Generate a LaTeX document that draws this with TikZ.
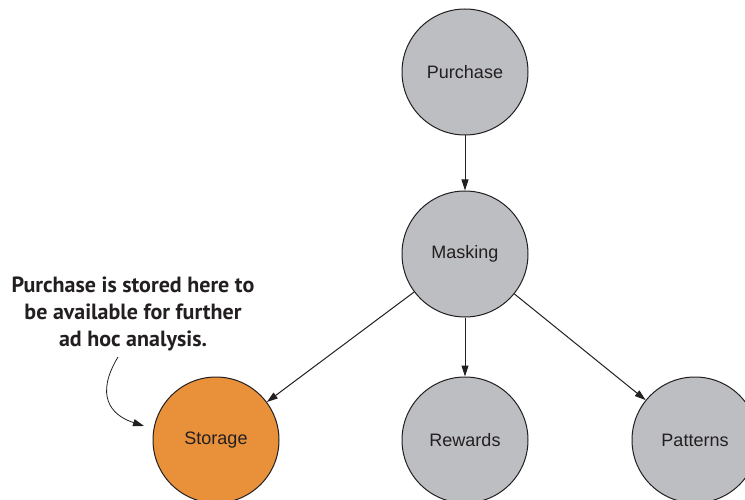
\documentclass[tikz,border=0pt]{standalone}
\usepackage{fontspec}
\setmainfont{Liberation Sans}
\newfontfamily\notefont{PT Sans}
\usetikzlibrary{arrows.meta}
\definecolor{nodegray}{HTML}{BDBEC1}
\definecolor{storeorange}{HTML}{E8913A}
\definecolor{linegray}{HTML}{231F20}
\begin{document}
\begin{tikzpicture}[x=1pt,y=-1pt,
  proc/.style={circle,draw=linegray,line width=1pt,fill=nodegray,minimum size=126pt,inner sep=0pt,font=\fontsize{18}{21}\selectfont,text=linegray},
  conn/.style={draw=linegray,line width=1pt,-{Triangle[length=11pt,width=7pt]}},
  note/.style={font=\notefont\bfseries\fontsize{22}{27}\selectfont,align=center,text=linegray,inner sep=0pt}]
\useasboundingbox (0,0) rectangle (745,500);
\node[proc] (purchase) at (465,72) {Purchase};
\node[proc] (masking) at (465,254) {Masking};
\node[proc,fill=storeorange] (storage) at (216,440) {Storage};
\node[proc] (rewards) at (465,440) {Rewards};
\node[proc] (patterns) at (695,440) {Patterns};
\draw[conn] (purchase) -- (masking);
\draw[conn] (masking) -- (storage);
\draw[conn] (masking) -- (rewards);
\draw[conn] (masking) -- (patterns);
\node[note] (text) at (133,314) {Purchase is stored here to\\be available for further\\ad hoc analysis.};
\coordinate (tipend) at (144,426);
\draw[draw=linegray,line width=0.8pt,-{Triangle[length=11pt,width=7pt]}] (118,357) .. controls (95,395) and (110,415) .. (tipend);
\end{tikzpicture}
\end{document}
